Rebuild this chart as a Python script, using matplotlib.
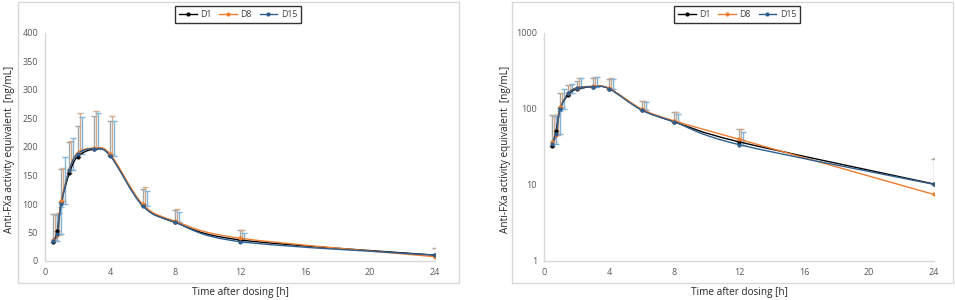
import numpy as np
import matplotlib
matplotlib.use('Agg')
import matplotlib.pyplot as plt
from matplotlib.path import Path
from matplotlib.patches import PathPatch, Rectangle
from matplotlib.lines import Line2D
import matplotlib.transforms as mtransforms

plt.rcParams['font.family'] = ['Open Sans', 'DejaVu Sans']

# sampling times [h]
times = [0.5, 0.75, 1, 1.5, 2, 3, 4, 6, 8, 12, 24]

# mean anti-FXa activity [ng/mL]
d1_mean = [33, 52, 103, 154, 183, 196, 186, 98, 68, 37, 10.3]
d8_mean = [37, 45, 105, 160, 190, 198, 188, 100, 70, 40, 7.5]
d15_mean = [35, 47, 100, 160, 188, 197, 185, 97, 68, 34, 10.2]

# upper SD
d1_sd = [50, 30, 58, 55, 54, 58, 60, 29, 22, 17, 12]
d8_sd = [45, 40, 58, 50, 69, 65, 66, 29, 21, 15, 15]
d15_sd = [45, 48, 82, 56, 64, 63, 60, 26, 18, 16, 13]

series = ['D1', 'D8', 'D15']
means = [d1_mean, d8_mean, d15_mean]
sds = [d1_sd, d8_sd, d15_sd]
line_colors = ['#000000', '#ED7D31', '#2F5F8F']
err_colors = ['#a6a6a6', '#d2ad8c', '#82b4dc']
err_shift = [0.0, 0.02, 0.04]   # inches, small sideways shift of the bars

xticks = [0, 4, 8, 12, 16, 20, 24]


def smooth_path(x, y, logy=False):
    x = np.asarray(x, float)
    y = np.asarray(y, float)
    yy = np.log10(y) if logy else y
    pts = np.column_stack([x, yy])
    n = len(pts)
    verts = [pts[0]]
    codes = [Path.MOVETO]
    for i in range(n - 1):
        p0 = pts[i - 1] if i > 0 else pts[i]
        p3 = pts[i + 2] if i + 2 < n else pts[i + 1]
        c1 = pts[i] + (pts[i + 1] - p0) / 6
        c2 = pts[i + 1] - (p3 - pts[i]) / 6
        verts += [c1, c2, pts[i + 1]]
        codes += [Path.CURVE4] * 3
    verts = np.array(verts)
    if logy:
        verts[:, 1] = 10 ** verts[:, 1]
    return Path(verts, codes)


fig = plt.figure(figsize=(9.55, 3.0), dpi=100)

# chart area frames
for x0 in [18, 512]:
    fig.patches.append(Rectangle((x0 / 955, 17 / 300), 441 / 955, 281 / 300,
                                 transform=fig.transFigure, fill=False,
                                 edgecolor='#d9d9d9', lw=1.0))

panels = [(45, False, 10), (544, True, 505)]
for left_px, logy, ylab_px in panels:
    ax = fig.add_axes([left_px / 955, 39 / 300, 390 / 955, 228 / 300])
    for k in range(3):
        shift = mtransforms.ScaledTranslation(err_shift[k], 0, fig.dpi_scale_trans)
        ax.errorbar(times, means[k], yerr=[np.zeros(len(times)), sds[k]],
                    fmt='none', ecolor=err_colors[k], elinewidth=1.0,
                    capsize=2.5, capthick=1.0, transform=ax.transData + shift,
                    zorder=2)
    for k in range(3):
        ax.add_patch(PathPatch(smooth_path(times, means[k], logy), fill=False,
                               edgecolor=line_colors[k], lw=1.0, zorder=3))
        ax.plot(times, means[k], 'o', color=line_colors[k], ms=2.0, zorder=4)

    ax.set_xlim(0, 24)
    ax.set_xticks(xticks)
    if logy:
        ax.set_yscale('log')
        ax.set_ylim(1, 1000)
        ax.set_yticks([1, 10, 100, 1000])
        ax.set_yticklabels(['1', '10', '100', '1000'])
        ax.minorticks_off()
    else:
        ax.set_ylim(0, 400)
        ax.set_yticks(range(0, 401, 50))
    ax.tick_params(length=0, labelsize=6.5, labelcolor='#595959', pad=5)
    for s in ['top', 'right']:
        ax.spines[s].set_visible(False)
    for s in ['left', 'bottom']:
        ax.spines[s].set_color('#d9d9d9')
        ax.spines[s].set_linewidth(1.0)

    ax.set_xlabel('Time after dosing [h]', fontsize=7.2, color='#262626')
    ax.xaxis.set_label_coords(0.5, -(292 - 261) / 228)
    ax.xaxis.label.set_va('center')
    ax.set_ylabel('Anti-FXa activity equivalent  [ng/mL]', fontsize=7.2,
                  color='#262626')
    ax.yaxis.set_label_coords((ylab_px - left_px) / 390, 0.49)
    ax.yaxis.label.set_va('center')

    handles = [Line2D([0], [0], color=line_colors[k], lw=1.0, marker='o', ms=2.0)
               for k in range(3)]
    cx = (left_px - 45 + 238) / 955
    leg = ax.legend(handles, series, loc='center', bbox_to_anchor=(cx, 1 - 14.5 / 300),
                    bbox_transform=fig.transFigure, ncol=3, fontsize=6.3,
                    frameon=True, fancybox=False, handlelength=2.0,
                    handletextpad=0.4, columnspacing=0.9, borderpad=0.45)
    leg.get_frame().set_edgecolor('#000000')
    leg.get_frame().set_linewidth(1.0)
    for t in leg.get_texts():
        t.set_color('#404040')

fig.savefig('out.png', dpi=100)
